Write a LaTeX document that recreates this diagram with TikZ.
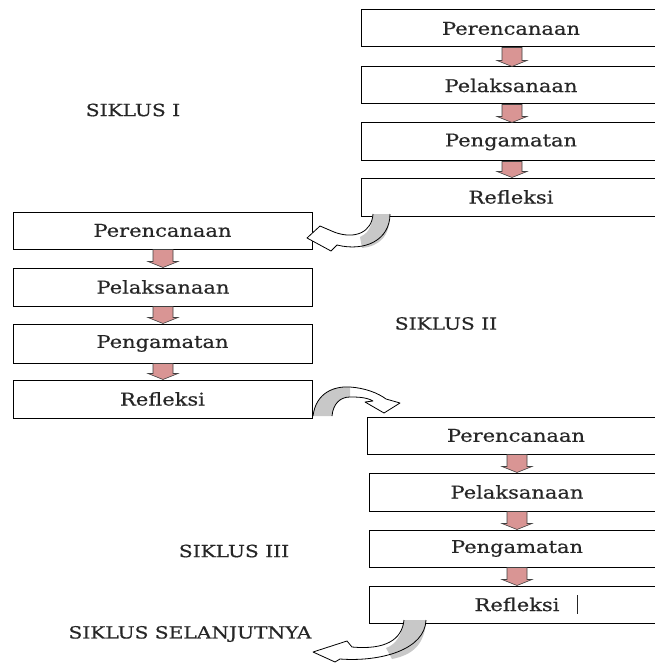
\documentclass[tikz,border=0pt]{standalone}
\usepackage{fontspec}
\setmainfont{DejaVu Serif}[FakeStretch=1.2, FakeBold=0.6]
\usetikzlibrary{calc}
\definecolor{pinkfill}{HTML}{D99594}
\definecolor{arrgray}{HTML}{C8C8C8}
\definecolor{txt}{HTML}{262626}
\tikzset{
  stepbox/.style={draw=black, line width=1pt, minimum height=37pt, inner sep=0pt, text=txt, font=\fontsize{17.5}{20}\selectfont},
  labeltext/.style={inner sep=0pt, text=txt, font=\fontsize{16.8}{19}\selectfont},
  pinkarr/.style={fill=pinkfill, draw=black!75, line width=0.6pt},
  curvearr/.style={draw=black, line width=0.8pt, line join=round},
}
\newcommand\blockdown[3]{%
  \filldraw[pinkarr] let \p1=(#1.south), \p2=(#2.north) in
    (#3pt-10pt,\y1) -- (#3pt+10pt,\y1) -- (#3pt+10pt,\y2+6pt) -- (#3pt+15pt,\y2+6pt)
    -- (#3pt,\y2) -- (#3pt-15pt,\y2+6pt) -- (#3pt-10pt,\y2+6pt) -- cycle;}
\begin{document}
\begin{tikzpicture}[x=1pt,y=-1pt]
\useasboundingbox (0,0) rectangle (654,663);
% column 1
\node[stepbox, minimum width=300pt] (a1) at (511,28.5) {Perencanaan};
\node[stepbox, minimum width=300pt] (a2) at (511,85.5) {Pelaksanaan};
\node[stepbox, minimum width=300pt, minimum height=38pt] (a3) at (511,142) {Pengamatan};
\node[stepbox, minimum width=300pt, minimum height=38pt] (a4) at (511,197) {Refleksi};
% column 2
\node[stepbox, minimum width=299pt] (b1) at (162.5,230.5) {Perencanaan};
\node[stepbox, minimum width=299pt, minimum height=38pt] (b2) at (163,287) {Pelaksanaan};
\node[stepbox, minimum width=299pt, minimum height=39pt] (b3) at (162.5,343.5) {Pengamatan};
\node[stepbox, minimum width=299pt, minimum height=38pt] (b4) at (162.5,399) {Refleksi};
% column 3
\node[stepbox, minimum width=298pt] (c1) at (516,435.5) {Perencanaan};
\node[stepbox, minimum width=296pt, minimum height=38pt] (c2) at (517,492) {Pelaksanaan};
\node[stepbox, minimum width=296pt] (c3) at (517,548.5) {Pengamatan};
\node[stepbox, minimum width=296pt] (c4) at (517,604.5) {Refleksi};
\draw[line width=1pt, txt] (577,595) -- (577,614);
% labels
\node[labeltext] (l1) at (133,110) {SIKLUS I};
\node[labeltext] (l2) at (446,323.5) {SIKLUS II};
\node[labeltext] (l3) at (234,551) {SIKLUS III};
\node[labeltext] (l4) at (190,634) {SIKLUS SELANJUTNYA};
% small arrows
\blockdown{a1}{a2}{512}
\blockdown{a2}{a3}{512}
\blockdown{a3}{a4}{512}
\blockdown{b1}{b2}{163}
\blockdown{b2}{b3}{163}
\blockdown{b3}{b4}{163}
\blockdown{c1}{c2}{517}
\blockdown{c2}{c3}{517}
\blockdown{c3}{c4}{517}
% curved arrow 1
\fill[white] (373,214) .. controls (372,232) and (355,240) .. (334,232) -- (320,226) -- (307,238) -- (331,251) -- (337,245) .. controls (365,252) and (390,240) .. (390,214) -- cycle;
\fill[arrgray] (373,214) .. controls (372,228) and (367,234) .. (360,237) -- (362,248) .. controls (380,246) and (390,236) .. (390,214) -- cycle;
\draw[curvearr] (373,214) .. controls (372,232) and (355,240) .. (334,232) -- (320,226) -- (307,238) -- (331,251) -- (337,245) .. controls (365,252) and (390,240) .. (390,214);
% curved arrow 2
\fill[white] (313,416) .. controls (316,392) and (335,386) .. (350,387) .. controls (365,388) and (378,393) .. (386,399) -- (400,403) -- (384,413) -- (365,402) -- (373,401) .. controls (366,397) and (357,397) .. (350,397) .. controls (340,397) and (333,404) .. (332,416) -- cycle;
\fill[arrgray] (313,416) .. controls (316,392) and (335,386) .. (350,387) -- (350,397) .. controls (340,397) and (333,404) .. (332,416) -- cycle;
\draw[curvearr] (313,416) .. controls (316,392) and (335,386) .. (350,387) .. controls (365,388) and (378,393) .. (386,399) -- (400,403) -- (384,413) -- (365,402) -- (373,401) .. controls (366,397) and (357,397) .. (350,397) .. controls (340,397) and (333,404) .. (332,416);
% curved arrow 3
\fill[white] (404,620) .. controls (402,640) and (385,650) .. (352,647) -- (347,641) -- (313,652) -- (335,662) -- (340,659) .. controls (380,662) and (425,650) .. (426,620) -- cycle;
\fill[arrgray] (404,620) .. controls (402,636) and (395,645) .. (386,648) -- (392,659) .. controls (412,655) and (425,645) .. (426,620) -- cycle;
\draw[curvearr] (404,620) .. controls (402,640) and (385,650) .. (352,647) -- (347,641) -- (313,652) -- (335,662) -- (340,659) .. controls (380,662) and (425,650) .. (426,620);
\end{tikzpicture}
\end{document}
